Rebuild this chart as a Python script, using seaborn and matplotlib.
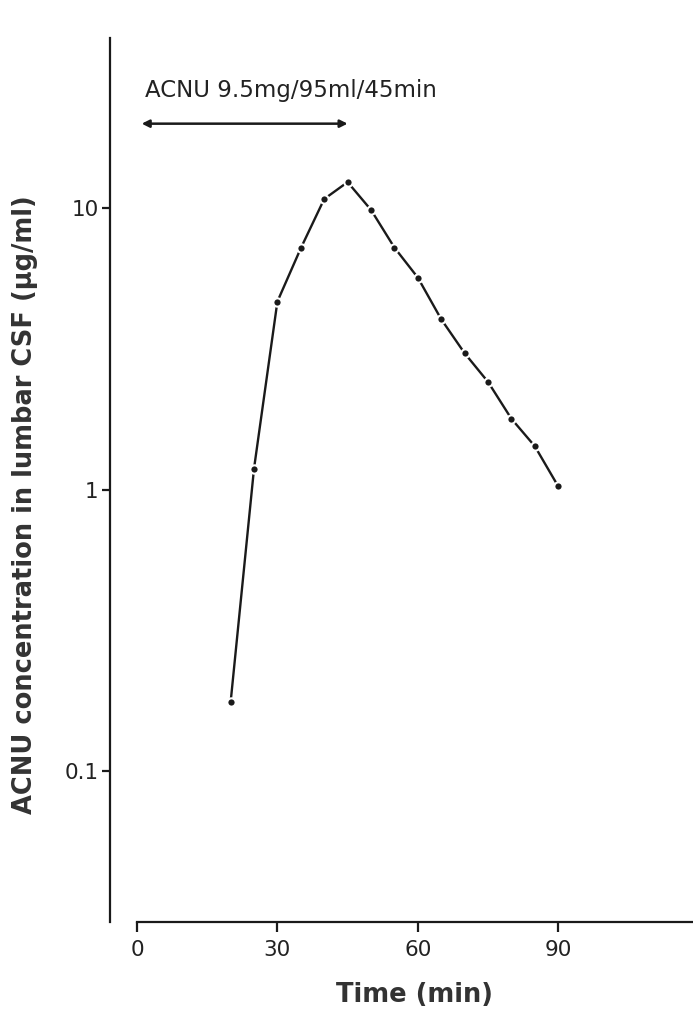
import matplotlib
matplotlib.use("Agg")
import matplotlib.pyplot as plt
import seaborn as sns
import pandas as pd
from matplotlib.ticker import FixedLocator, FixedFormatter, NullLocator

time_min = [20, 25, 30, 35, 40, 45, 50, 55, 60, 65, 70, 75, 80, 85, 90]
conc = [0.176, 1.19, 4.67, 7.22, 10.8, 12.4, 9.88, 7.26, 5.68, 4.04, 3.06, 2.42, 1.79, 1.43, 1.03]
x_ticks = [0, 30, 60, 90]
x_tick_labels = ["0", "30", "60", "90"]
y_ticks = [0.1, 1, 10]
y_tick_labels = ["0.1", "1", "10"]
annotation = "ACNU 9.5mg/95ml/45min"
infusion = [1, 45]

sns.set_theme(style="white")
plt.rcParams['font.family'] = ['DejaVu Sans']

df = pd.DataFrame({"Time": time_min, "Conc": conc})

fig = plt.figure(figsize=(6.93, 10.14), dpi=100)
ax = fig.add_axes([137/693, 92/1014, 556/693, 884/1014])

sns.lineplot(data=df, x="Time", y="Conc", ax=ax, color="#1a1a1a", linewidth=1.7,
             marker="o", markersize=6, markerfacecolor="#1a1a1a",
             markeredgecolor="white", markeredgewidth=1.5)

ax.set_yscale("log")
ax.set_xlim(0, 118.8)
ax.set_ylim(0.0292, 40.3)

ax.xaxis.set_major_locator(FixedLocator(x_ticks))
ax.xaxis.set_major_formatter(FixedFormatter(x_tick_labels))
ax.yaxis.set_major_locator(FixedLocator(y_ticks))
ax.yaxis.set_major_formatter(FixedFormatter(y_tick_labels))
ax.yaxis.set_minor_locator(NullLocator())
ax.xaxis.set_minor_locator(NullLocator())

for s in ["top", "right"]:
    ax.spines[s].set_visible(False)
for s in ["left", "bottom"]:
    ax.spines[s].set_color("#1a1a1a")
    ax.spines[s].set_linewidth(1.6)
ax.spines["left"].set_position(("outward", 19.5))

ax.tick_params(axis="x", direction="out", length=7, width=1.6, color="#1a1a1a",
               labelsize=15.5, pad=6, labelcolor="#222222", bottom=True)
ax.tick_params(axis="y", direction="out", length=6, width=1.6, color="#1a1a1a",
               labelsize=15.5, pad=2, labelcolor="#222222", left=True)

ax.set_xlabel("Time (min)", fontsize=18.5, fontweight="bold", color="#333333", labelpad=16)
ax.set_ylabel("ACNU concentration in lumbar CSF (\u03bcg/ml)", fontsize=18.5,
              fontweight="bold", color="#333333")
ax.yaxis.set_label_coords(-0.178, 0.472)

ax.annotate("", xy=(infusion[0], 20), xytext=(infusion[1], 20),
            arrowprops=dict(arrowstyle="<|-|>", color="#1a1a1a", lw=1.8,
                            mutation_scale=11, shrinkA=0, shrinkB=0))
ax.text(1.7, 24.9, annotation, fontsize=16.5, color="#222222",
        ha="left", va="baseline")

fig.savefig("out.png", dpi=100)
